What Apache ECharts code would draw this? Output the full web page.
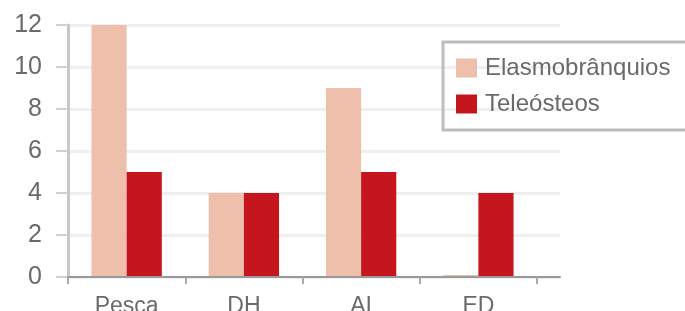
<!DOCTYPE html>
<html>
<head>
<meta charset="utf-8">
<script src="https://cdn.jsdelivr.net/npm/echarts@6/dist/echarts.min.js"></script>
<style>
  html, body { margin: 0; padding: 0; background: #fff; }
  #chart { width: 685px; height: 311px; }
</style>
</head>
<body>
<div id="chart"></div>
<script>
// dados
const categorias = ["Pesca", "DH", "AI", "ED"];
const elasmobranquios = [12, 4, 9, 0.1];
const teleosteos = [5, 4, 5, 4];
const yTicks = [0, 2, 4, 6, 8, 10, 12];

const fonte = "Liberation Sans";
const chart = echarts.init(document.getElementById("chart"));

chart.setOption({
  animation: false,
  textStyle: { fontFamily: fonte },
  legend: {
    orient: "vertical",
    left: 443,
    top: 42,
    padding: [14, 60, 14, 13],
    icon: "rect",
    itemWidth: 21,
    itemHeight: 19,
    itemGap: 12,
    borderColor: "#bdbdbd",
    borderWidth: 3,
    textStyle: { fontSize: 24, color: "#6a6a6a", fontFamily: fonte, padding: [0, 0, 0, 3] },
    data: ["Elasmobrânquios", "Teleósteos"]
  },
  grid: [
    { left: 68, right: 148, top: 25, bottom: 34, outerBoundsMode: "none" },
    // grelha de fundo, um pouco mais larga (linhas de grade)
    { left: 68, right: 125, top: 25, bottom: 34, outerBoundsMode: "none" }
  ],
  xAxis: [
    {
      type: "category",
      gridIndex: 0,
      data: categorias,
      axisLine: { lineStyle: { color: "#9a9a9a", width: 2 } },
      axisTick: { show: true, length: 7, lineStyle: { color: "#aaa", width: 2 } },
      axisLabel: { fontSize: 23, color: "#6a6a6a", margin: 18 },
      z: 3
    },
    {
      type: "value",
      gridIndex: 1,
      min: 0,
      max: 1,
      axisLine: { show: true, lineStyle: { color: "#9a9a9a", width: 2 } },
      axisTick: { show: false },
      axisLabel: { show: false },
      splitLine: { show: false }
    }
  ],
  yAxis: [
    {
      type: "value",
      gridIndex: 0,
      min: 0,
      max: 12,
      interval: 2,
      axisLine: { show: true, lineStyle: { color: "#c8c8c8", width: 3 } },
      axisTick: { show: true, length: 12, lineStyle: { color: "#d0d0d0", width: 2 } },
      axisLabel: {
        fontSize: 25,
        color: "#6a6a6a",
        margin: 26,
        formatter: v => (yTicks.includes(v) ? String(v) : "")
      },
      splitLine: { show: false }
    },
    {
      type: "value",
      gridIndex: 1,
      min: 0,
      max: 12,
      interval: 2,
      axisLine: { show: false },
      axisTick: { show: false },
      axisLabel: { show: false },
      splitLine: { show: true, lineStyle: { color: "#efefef", width: 3 } }
    }
  ],
  series: [
    {
      name: "Elasmobrânquios",
      type: "bar",
      xAxisIndex: 0,
      yAxisIndex: 0,
      data: elasmobranquios,
      barGap: 0,
      barCategoryGap: "40%",
      itemStyle: { color: "#eebfaa" }
    },
    {
      name: "Teleósteos",
      type: "bar",
      xAxisIndex: 0,
      yAxisIndex: 0,
      data: teleosteos,
      barGap: 0,
      barCategoryGap: "40%",
      itemStyle: { color: "#c5161e" }
    }
  ]
});
</script>
</body>
</html>
